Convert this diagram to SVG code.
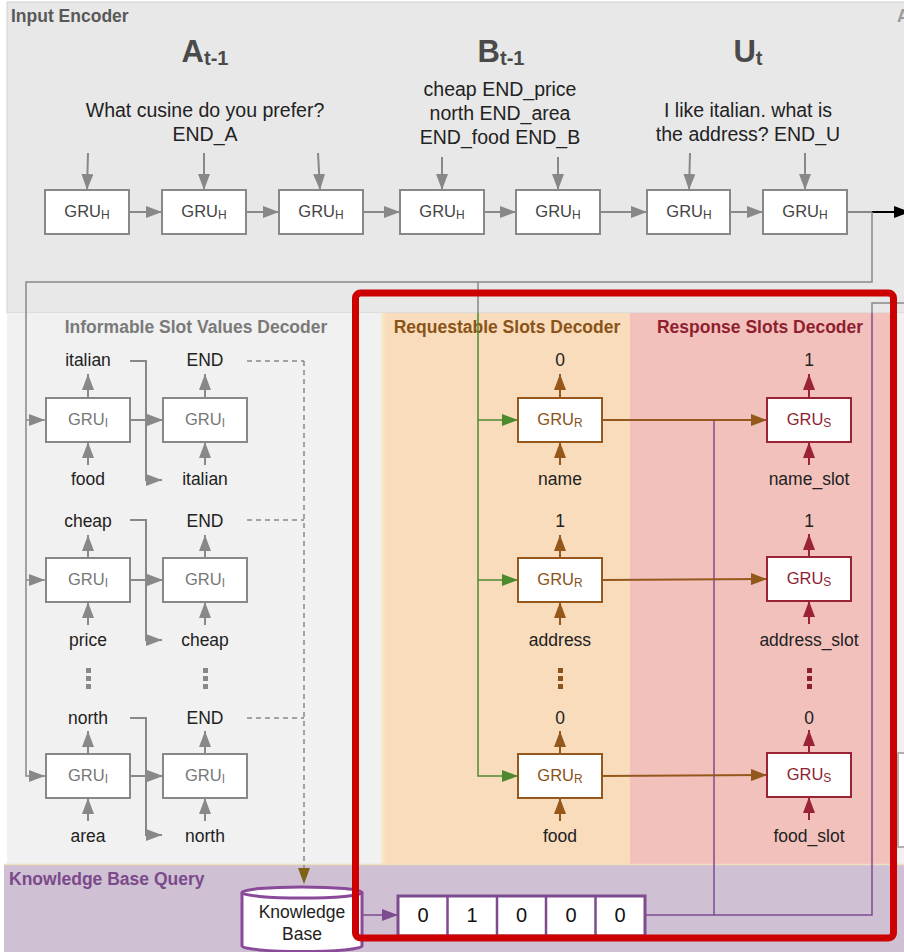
<svg xmlns="http://www.w3.org/2000/svg" width="904" height="952" viewBox="0 0 904 952">
  <style>
    .lbl { font-family: "Liberation Sans", Arial, sans-serif; font-size: 17.5px; fill: #222; text-anchor: middle; }
    .big { font-family: "Liberation Sans", Arial, sans-serif; font-size: 19.5px; fill: #222; text-anchor: middle; }
    .hdr { font-family: "Liberation Sans", Arial, sans-serif; font-size: 31px; font-weight: bold; fill: #4a4a4a; text-anchor: middle; }
    .hdr .sub { font-size: 20px; }
    .ttl { font-family: "Liberation Sans", Arial, sans-serif; font-size: 17.5px; font-weight: bold; }
    .gru { font-family: "Liberation Sans", Arial, sans-serif; font-size: 16.5px; text-anchor: middle; }
    .gru .sub { font-size: 12px; }
    .boxH, .boxI { fill: #fff; stroke: #888; stroke-width: 2; }
    .boxR { fill: #fff; stroke: #94581c; stroke-width: 2; }
    .boxS { fill: #fff; stroke: #9a2433; stroke-width: 2; }
    .cg { fill: none; stroke: #888; stroke-width: 2; }
    .cb { fill: none; stroke: #94581c; stroke-width: 2; }
    .cr { fill: none; stroke: #9a2433; stroke-width: 2; }
    .cgr { fill: none; stroke: #4d8a2e; stroke-width: 1.5; }
    .cp { fill: none; stroke: #7e4b8f; stroke-width: 1.5; }
    .cthin { fill: none; stroke: #888; stroke-width: 1.5; }
    .dash { fill: none; stroke: #888; stroke-width: 1.5; stroke-dasharray: 5 4; }
    .num { font-family: "Liberation Sans", Arial, sans-serif; font-size: 20px; fill: #111; text-anchor: middle; }
  </style>
  <defs>
    <marker id="ah-gray" viewBox="0 0 16 12" refX="16" refY="6" markerWidth="16" markerHeight="12" markerUnits="userSpaceOnUse" orient="auto"><path d="M0,0 L16,6 L0,12 z" fill="#888"/></marker>
    <marker id="ah-black" viewBox="0 0 16 12" refX="16" refY="6" markerWidth="16" markerHeight="12" markerUnits="userSpaceOnUse" orient="auto"><path d="M0,0 L16,6 L0,12 z" fill="#000"/></marker>
    <marker id="ah-brown" viewBox="0 0 16 12" refX="16" refY="6" markerWidth="16" markerHeight="12" markerUnits="userSpaceOnUse" orient="auto"><path d="M0,0 L16,6 L0,12 z" fill="#94581c"/></marker>
    <marker id="ah-red" viewBox="0 0 16 12" refX="16" refY="6" markerWidth="16" markerHeight="12" markerUnits="userSpaceOnUse" orient="auto"><path d="M0,0 L16,6 L0,12 z" fill="#9a2433"/></marker>
    <marker id="ah-green" viewBox="0 0 16 12" refX="16" refY="6" markerWidth="16" markerHeight="12" markerUnits="userSpaceOnUse" orient="auto"><path d="M0,0 L16,6 L0,12 z" fill="#4d8a2e"/></marker>
    <marker id="ah-purple" viewBox="0 0 16 12" refX="16" refY="6" markerWidth="16" markerHeight="12" markerUnits="userSpaceOnUse" orient="auto"><path d="M0,0 L16,6 L0,12 z" fill="#7e4b8f"/></marker>
    <marker id="ah-olive" viewBox="0 0 16 12" refX="16" refY="6" markerWidth="16" markerHeight="12" markerUnits="userSpaceOnUse" orient="auto"><path d="M0,0 L16,6 L0,12 z" fill="#7d6218"/></marker>
  </defs>

  <rect width="904" height="952" fill="#fff"/>

  <!-- panels -->
  <g id="panels">
    <rect id="input-encoder" x="7" y="2" width="910" height="311" fill="#e8e8e8" stroke="#d2d2d2" stroke-width="1"/>
    <rect id="decoders" x="7" y="313" width="910" height="551" fill="#f1f1f1"/>
    <rect id="requestable-panel" x="382" y="313" width="248" height="551" fill="#f8dcbb"/>
    <line x1="383" y1="313" x2="383" y2="864" stroke="#f7e8bd" stroke-width="3"/>
    <rect id="response-panel" x="630" y="313" width="262" height="551" fill="#f3c1bc"/>
    <rect id="kb-panel" x="4" y="864" width="910" height="90" fill="#cfc0d3"/>
    <line x1="4" y1="864.5" x2="904" y2="864.5" stroke="#eee0bd" stroke-width="1.5"/>
    <rect x="898" y="753" width="30" height="94" fill="#fff" stroke="#999" stroke-width="1.5"/>
  </g>

  <!-- panel titles -->
  <g id="titles">
    <text class="ttl" x="11" y="22" fill="#595959">Input Encoder</text>
    <text class="ttl" x="897" y="22" fill="#9a9a9a">A</text>
    <text class="ttl" x="196" y="333" fill="#7a7a7a" text-anchor="middle">Informable Slot Values Decoder</text>
    <text class="ttl" x="507" y="333" fill="#8a5318" text-anchor="middle">Requestable Slots Decoder</text>
    <text class="ttl" x="760" y="333" fill="#8e1f30" text-anchor="middle">Response Slots Decoder</text>
    <text class="ttl" x="9" y="885" fill="#7b4a8a">Knowledge Base Query</text>
  </g>

  <!-- encoder inputs -->
  <g id="encoder-inputs">
    <text class="hdr" x="205" y="62">A<tspan class="sub" dy="3">t-1</tspan></text>
    <text class="hdr" x="501" y="62">B<tspan class="sub" dy="3">t-1</tspan></text>
    <text class="hdr" x="748" y="62">U<tspan class="sub" dy="3">t</tspan></text>
    <text class="big" x="205" y="117">What cusine do you prefer?</text>
    <text class="big" x="205" y="141">END_A</text>
    <text class="big" x="500" y="96">cheap END_price</text>
    <text class="big" x="500" y="120">north END_area</text>
    <text class="big" x="500" y="144">END_food END_B</text>
    <text class="big" x="748" y="117">I like italian. what is</text>
    <text class="big" x="748" y="141">the address? END_U</text>
  </g>

  <!-- connectors -->
  <g id="connectors">
    <!-- token inputs into the encoder -->
    <line class="cg" x1="88" y1="153" x2="87" y2="190" marker-end="url(#ah-gray)"/>
    <line class="cg" x1="204" y1="153" x2="204" y2="190" marker-end="url(#ah-gray)"/>
    <line class="cg" x1="318" y1="153" x2="320" y2="190" marker-end="url(#ah-gray)"/>
    <line class="cg" x1="442" y1="157" x2="442" y2="190" marker-end="url(#ah-gray)"/>
    <line class="cg" x1="558" y1="157" x2="558" y2="190" marker-end="url(#ah-gray)"/>
    <line class="cg" x1="690" y1="153" x2="689" y2="190" marker-end="url(#ah-gray)"/>
    <line class="cg" x1="805" y1="153" x2="805" y2="190" marker-end="url(#ah-gray)"/>
    <!-- encoder recurrence -->
    <line class="cg" x1="129" y1="212" x2="162" y2="212" marker-end="url(#ah-gray)"/>
    <line class="cg" x1="246" y1="212" x2="279" y2="212" marker-end="url(#ah-gray)"/>
    <line class="cg" x1="363" y1="212" x2="400" y2="212" marker-end="url(#ah-gray)"/>
    <line class="cg" x1="484" y1="212" x2="516" y2="212" marker-end="url(#ah-gray)"/>
    <line class="cg" x1="600" y1="212" x2="647" y2="212" marker-end="url(#ah-gray)"/>
    <line class="cg" x1="730" y1="212" x2="763" y2="212" marker-end="url(#ah-gray)"/>
    <line class="cg" x1="847" y1="212" x2="873" y2="212"/>
    <line x1="872" y1="212" x2="910" y2="212" stroke="#000" stroke-width="2" marker-end="url(#ah-black)"/>

    <!-- encoder state to the decoders -->
    <path class="cthin" d="M872,212 V282 H26 V776 H45" marker-end="url(#ah-gray)"/>
    <path class="cthin" d="M26,420 H45" marker-end="url(#ah-gray)"/>
    <path class="cthin" d="M26,580 H45" marker-end="url(#ah-gray)"/>
    <path class="cthin" d="M478,282 V313"/>
    <path class="cgr" d="M478,313 V776 H518" marker-end="url(#ah-green)"/>
    <path class="cgr" d="M478,420 H518" marker-end="url(#ah-green)"/>
    <path class="cgr" d="M478,580 H518" marker-end="url(#ah-green)"/>

    <!-- informable decoder -->
    <line class="cg" x1="88" y1="398" x2="88" y2="374" marker-end="url(#ah-gray)"/>
    <line class="cg" x1="88" y1="465" x2="88" y2="442" marker-end="url(#ah-gray)"/>
    <line class="cg" x1="205" y1="398" x2="205" y2="374" marker-end="url(#ah-gray)"/>
    <line class="cg" x1="205" y1="465" x2="205" y2="442" marker-end="url(#ah-gray)"/>
    <line class="cg" x1="130" y1="420" x2="163" y2="420" marker-end="url(#ah-gray)"/>
    <path class="cg" d="M130,361 H146 V480 H162" marker-end="url(#ah-gray)"/>

    <line class="cg" x1="88" y1="558" x2="88" y2="535" marker-end="url(#ah-gray)"/>
    <line class="cg" x1="88" y1="625" x2="88" y2="602" marker-end="url(#ah-gray)"/>
    <line class="cg" x1="205" y1="558" x2="205" y2="535" marker-end="url(#ah-gray)"/>
    <line class="cg" x1="205" y1="625" x2="205" y2="602" marker-end="url(#ah-gray)"/>
    <line class="cg" x1="130" y1="580" x2="163" y2="580" marker-end="url(#ah-gray)"/>
    <path class="cg" d="M130,520 H146 V640 H162" marker-end="url(#ah-gray)"/>

    <line class="cg" x1="88" y1="754" x2="88" y2="731" marker-end="url(#ah-gray)"/>
    <line class="cg" x1="88" y1="821" x2="88" y2="798" marker-end="url(#ah-gray)"/>
    <line class="cg" x1="205" y1="754" x2="205" y2="731" marker-end="url(#ah-gray)"/>
    <line class="cg" x1="205" y1="821" x2="205" y2="798" marker-end="url(#ah-gray)"/>
    <line class="cg" x1="130" y1="776" x2="163" y2="776" marker-end="url(#ah-gray)"/>
    <path class="cg" d="M130,718 H146 V835 H162" marker-end="url(#ah-gray)"/>

    <!-- END tokens feed the knowledge base query -->
    <path class="dash" d="M247,361 H304"/>
    <path class="dash" d="M247,520 H304"/>
    <path class="dash" d="M247,718 H304"/>
    <path class="dash" d="M304,361 V868"/>
    <path d="M304,866 V884" stroke="none" fill="none" marker-end="url(#ah-olive)"/>

    <!-- requestable decoder -->
    <line class="cb" x1="560" y1="398" x2="560" y2="374" marker-end="url(#ah-brown)"/>
    <line class="cb" x1="560" y1="465" x2="560" y2="442" marker-end="url(#ah-brown)"/>
    <line class="cb" x1="560" y1="558" x2="560" y2="535" marker-end="url(#ah-brown)"/>
    <line class="cb" x1="560" y1="625" x2="560" y2="602" marker-end="url(#ah-brown)"/>
    <line class="cb" x1="560" y1="754" x2="560" y2="731" marker-end="url(#ah-brown)"/>
    <line class="cb" x1="560" y1="821" x2="560" y2="798" marker-end="url(#ah-brown)"/>

    <!-- response decoder -->
    <line class="cr" x1="809" y1="398" x2="809" y2="374" marker-end="url(#ah-red)"/>
    <line class="cr" x1="809" y1="465" x2="809" y2="442" marker-end="url(#ah-red)"/>
    <line class="cr" x1="809" y1="557" x2="809" y2="534" marker-end="url(#ah-red)"/>
    <line class="cr" x1="809" y1="624" x2="809" y2="601" marker-end="url(#ah-red)"/>
    <line class="cr" x1="809" y1="753" x2="809" y2="730" marker-end="url(#ah-red)"/>
    <line class="cr" x1="809" y1="820" x2="809" y2="797" marker-end="url(#ah-red)"/>

    <!-- KB result vector -->
    <path class="cp" d="M714,915 V420"/>
    <path class="cp" d="M645,915 H872 V313"/>
    <path class="cthin" d="M872,313 V303 H910"/>
    <path class="cp" d="M362,915 H398" stroke-width="2" marker-end="url(#ah-purple)"/>

    <!-- requestable to response -->
    <line class="cb" x1="602" y1="420" x2="767" y2="420" marker-end="url(#ah-brown)"/>
    <line class="cb" x1="602" y1="580" x2="767" y2="579" marker-end="url(#ah-brown)"/>
    <line class="cb" x1="602" y1="776" x2="767" y2="775" marker-end="url(#ah-brown)"/>
  </g>

  <!-- encoder nodes -->
  <g id="gru-h-1"><rect class="boxH" x="45" y="190" width="84" height="44"/><text class="gru" x="87" y="217" fill="#444">GRU<tspan class="sub" dy="2">H</tspan></text></g>
  <g id="gru-h-2"><rect class="boxH" x="162" y="190" width="84" height="44"/><text class="gru" x="204" y="217" fill="#444">GRU<tspan class="sub" dy="2">H</tspan></text></g>
  <g id="gru-h-3"><rect class="boxH" x="279" y="190" width="84" height="44"/><text class="gru" x="321" y="217" fill="#444">GRU<tspan class="sub" dy="2">H</tspan></text></g>
  <g id="gru-h-4"><rect class="boxH" x="400" y="190" width="84" height="44"/><text class="gru" x="442" y="217" fill="#444">GRU<tspan class="sub" dy="2">H</tspan></text></g>
  <g id="gru-h-5"><rect class="boxH" x="516" y="190" width="84" height="44"/><text class="gru" x="558" y="217" fill="#444">GRU<tspan class="sub" dy="2">H</tspan></text></g>
  <g id="gru-h-6"><rect class="boxH" x="647" y="190" width="83" height="44"/><text class="gru" x="689" y="217" fill="#444">GRU<tspan class="sub" dy="2">H</tspan></text></g>
  <g id="gru-h-7"><rect class="boxH" x="763" y="190" width="84" height="44"/><text class="gru" x="805" y="217" fill="#444">GRU<tspan class="sub" dy="2">H</tspan></text></g>

  <!-- informable slot value nodes -->
  <g id="gru-i-1a"><rect class="boxI" x="46" y="398" width="84" height="44"/><text class="gru" x="88" y="425" fill="#777">GRU<tspan class="sub" dy="2">I</tspan></text></g>
  <g id="gru-i-1b"><rect class="boxI" x="163" y="398" width="84" height="44"/><text class="gru" x="205" y="425" fill="#777">GRU<tspan class="sub" dy="2">I</tspan></text></g>
  <g id="gru-i-2a"><rect class="boxI" x="46" y="558" width="84" height="44"/><text class="gru" x="88" y="585" fill="#777">GRU<tspan class="sub" dy="2">I</tspan></text></g>
  <g id="gru-i-2b"><rect class="boxI" x="163" y="558" width="84" height="44"/><text class="gru" x="205" y="585" fill="#777">GRU<tspan class="sub" dy="2">I</tspan></text></g>
  <g id="gru-i-3a"><rect class="boxI" x="46" y="754" width="84" height="44"/><text class="gru" x="88" y="781" fill="#777">GRU<tspan class="sub" dy="2">I</tspan></text></g>
  <g id="gru-i-3b"><rect class="boxI" x="163" y="754" width="84" height="44"/><text class="gru" x="205" y="781" fill="#777">GRU<tspan class="sub" dy="2">I</tspan></text></g>

  <!-- requestable nodes -->
  <g id="gru-r-1"><rect class="boxR" x="518" y="398" width="84" height="44"/><text class="gru" x="560" y="425" fill="#8a5318">GRU<tspan class="sub" dy="2">R</tspan></text></g>
  <g id="gru-r-2"><rect class="boxR" x="518" y="558" width="84" height="44"/><text class="gru" x="560" y="585" fill="#8a5318">GRU<tspan class="sub" dy="2">R</tspan></text></g>
  <g id="gru-r-3"><rect class="boxR" x="518" y="754" width="84" height="44"/><text class="gru" x="560" y="781" fill="#8a5318">GRU<tspan class="sub" dy="2">R</tspan></text></g>

  <!-- response nodes -->
  <g id="gru-s-1"><rect class="boxS" x="767" y="398" width="84" height="44"/><text class="gru" x="809" y="425" fill="#8e1f30">GRU<tspan class="sub" dy="2">S</tspan></text></g>
  <g id="gru-s-2"><rect class="boxS" x="767" y="557" width="84" height="44"/><text class="gru" x="809" y="584" fill="#8e1f30">GRU<tspan class="sub" dy="2">S</tspan></text></g>
  <g id="gru-s-3"><rect class="boxS" x="767" y="753" width="84" height="44"/><text class="gru" x="809" y="780" fill="#8e1f30">GRU<tspan class="sub" dy="2">S</tspan></text></g>

  <!-- decoder labels -->
  <g id="decoder-labels">
    <text class="lbl" x="88" y="366">italian</text>
    <text class="lbl" x="205" y="366">END</text>
    <text class="lbl" x="88" y="485">food</text>
    <text class="lbl" x="205" y="485">italian</text>
    <text class="lbl" x="88" y="527">cheap</text>
    <text class="lbl" x="205" y="527">END</text>
    <text class="lbl" x="88" y="646">price</text>
    <text class="lbl" x="205" y="646">cheap</text>
    <text class="lbl" x="88" y="724">north</text>
    <text class="lbl" x="205" y="724">END</text>
    <text class="lbl" x="88" y="842">area</text>
    <text class="lbl" x="205" y="842">north</text>

    <text class="lbl" x="560" y="366">0</text>
    <text class="lbl" x="560" y="485">name</text>
    <text class="lbl" x="560" y="527">1</text>
    <text class="lbl" x="560" y="646">address</text>
    <text class="lbl" x="560" y="724">0</text>
    <text class="lbl" x="560" y="842">food</text>

    <text class="lbl" x="809" y="366">1</text>
    <text class="lbl" x="809" y="485">name_slot</text>
    <text class="lbl" x="809" y="527">1</text>
    <text class="lbl" x="809" y="646">address_slot</text>
    <text class="lbl" x="809" y="724">0</text>
    <text class="lbl" x="809" y="842">food_slot</text>
  </g>

  <!-- vertical ellipses -->
  <g id="ellipses">
    <g fill="#888">
      <rect x="86" y="668" width="5" height="5"/><rect x="86" y="676" width="5" height="5"/><rect x="86" y="684" width="5" height="5"/>
      <rect x="203" y="668" width="5" height="5"/><rect x="203" y="676" width="5" height="5"/><rect x="203" y="684" width="5" height="5"/>
    </g>
    <g fill="#8a5318">
      <rect x="558" y="668" width="5" height="5"/><rect x="558" y="676" width="5" height="5"/><rect x="558" y="684" width="5" height="5"/>
    </g>
    <g fill="#8e1f30">
      <rect x="807" y="668" width="5" height="5"/><rect x="807" y="676" width="5" height="5"/><rect x="807" y="684" width="5" height="5"/>
    </g>
  </g>

  <!-- knowledge base -->
  <g id="knowledge-base">
    <path d="M242,892.5 A60,5.5 0 0,1 362,892.5 V946 A60,5.5 0 0,1 242,946 Z" fill="#fff" stroke="#8a4a9a" stroke-width="3"/>
    <path d="M242,892.5 A60,5.5 0 0,0 362,892.5" fill="none" stroke="#8a4a9a" stroke-width="3"/>
    <text class="lbl" x="302" y="918" fill="#111">Knowledge</text>
    <text class="lbl" x="302" y="940" fill="#111">Base</text>
  </g>

  <!-- KB result vector -->
  <g id="kb-vector">
    <rect x="398" y="896" width="247" height="40" fill="#fff" stroke="#7e4b8f" stroke-width="3"/>
    <g stroke="#7e4b8f" stroke-width="2.5">
      <line x1="447.5" y1="896" x2="447.5" y2="936"/>
      <line x1="497" y1="896" x2="497" y2="936"/>
      <line x1="546" y1="896" x2="546" y2="936"/>
      <line x1="595.5" y1="896" x2="595.5" y2="936"/>
    </g>
    <text class="num" x="423" y="922">0</text>
    <text class="num" x="472" y="922">1</text>
    <text class="num" x="521.5" y="922">0</text>
    <text class="num" x="571" y="922">0</text>
    <text class="num" x="620" y="922">0</text>
  </g>

  <!-- highlight frame around the requestable / response part -->
  <rect id="highlight" x="355.5" y="293" width="538" height="645" rx="5" fill="none" stroke="#cc0000" stroke-width="7"/>
</svg>
